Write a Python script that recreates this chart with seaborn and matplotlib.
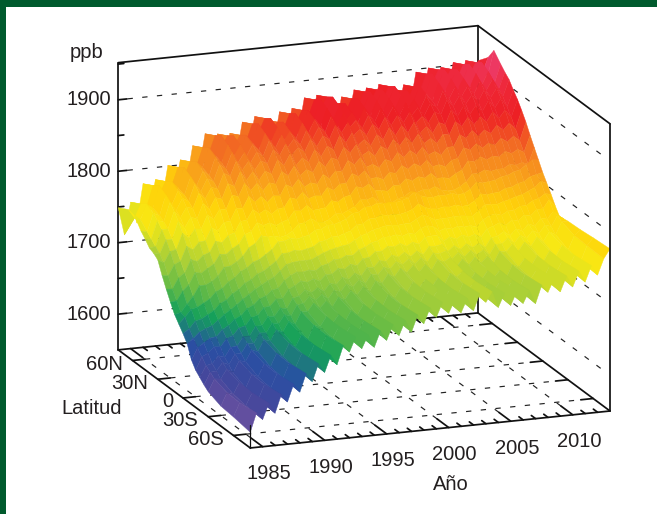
"""Metano atmosferico por latitud y ano, superficie 3D."""

import numpy as np
import seaborn as sns
import matplotlib.pyplot as plt
from matplotlib.colors import Normalize
from matplotlib.patches import Rectangle
from mpl_toolkits.mplot3d import proj3d

WIDTH, HEIGHT = 657, 514

# latitudes of the grid rows, north to south
latitudes = [77, 65, 58, 50, 45, 40, 35, 30, 25, 20, 15, 10, 5, 0, -5, -10, -15, -20, -25, -30, -45, -60, -80]

# ppb at the start of each year (1984..2013), per latitude
n77_a = [1749, 1755, 1779, 1783, 1801, 1807, 1825, 1840, 1838, 1837, 1851, 1857, 1850, 1860, 1863, 1876, 1878, 1867, 1872, 1880, 1881, 1884, 1876, 1880, 1896, 1900, 1899, 1904, 1905, 1903]
n65_a = [1757, 1763, 1787, 1791, 1809, 1815, 1833, 1848, 1846, 1845, 1859, 1865, 1858, 1868, 1871, 1884, 1886, 1875, 1880, 1888, 1889, 1892, 1884, 1888, 1904, 1908, 1907, 1912, 1913, 1918]
n58_a = [1755, 1769, 1793, 1797, 1815, 1821, 1839, 1854, 1852, 1851, 1865, 1871, 1864, 1874, 1877, 1890, 1892, 1881, 1886, 1894, 1895, 1898, 1890, 1894, 1910, 1914, 1913, 1918, 1919, 1934]
n50_a = [1740, 1763, 1787, 1791, 1809, 1815, 1833, 1848, 1846, 1845, 1859, 1865, 1858, 1868, 1871, 1884, 1886, 1875, 1880, 1888, 1889, 1892, 1884, 1888, 1904, 1908, 1907, 1912, 1913, 1922]
n45_a = [1733, 1757, 1781, 1785, 1803, 1809, 1827, 1842, 1840, 1839, 1853, 1859, 1852, 1862, 1865, 1878, 1880, 1869, 1874, 1882, 1883, 1886, 1878, 1882, 1898, 1902, 1901, 1906, 1907, 1915]
n40_a = [1725, 1749, 1773, 1777, 1795, 1801, 1819, 1834, 1832, 1831, 1845, 1851, 1844, 1854, 1857, 1870, 1872, 1861, 1866, 1874, 1875, 1878, 1870, 1874, 1890, 1894, 1893, 1898, 1899, 1909]
n35_a = [1722, 1739, 1763, 1767, 1785, 1791, 1809, 1824, 1822, 1821, 1835, 1841, 1834, 1844, 1847, 1860, 1862, 1851, 1856, 1864, 1865, 1868, 1860, 1864, 1880, 1884, 1883, 1888, 1889, 1899]
n30_a = [1717, 1727, 1751, 1755, 1773, 1779, 1797, 1812, 1810, 1809, 1823, 1829, 1822, 1832, 1835, 1848, 1850, 1839, 1844, 1852, 1853, 1856, 1848, 1852, 1868, 1872, 1871, 1876, 1877, 1890]
n25_a = [1700, 1713, 1737, 1741, 1759, 1765, 1783, 1798, 1796, 1795, 1809, 1815, 1808, 1818, 1821, 1834, 1836, 1825, 1830, 1838, 1839, 1842, 1834, 1838, 1854, 1858, 1857, 1862, 1863, 1879]
n20_a = [1685, 1699, 1723, 1727, 1745, 1751, 1769, 1784, 1782, 1781, 1795, 1801, 1794, 1804, 1807, 1820, 1822, 1811, 1816, 1824, 1825, 1828, 1820, 1824, 1840, 1844, 1843, 1848, 1849, 1867]
n15_a = [1671, 1685, 1709, 1713, 1731, 1737, 1755, 1770, 1768, 1767, 1781, 1787, 1780, 1790, 1793, 1806, 1808, 1797, 1802, 1810, 1811, 1814, 1806, 1810, 1826, 1830, 1829, 1834, 1835, 1853]
n10_a = [1658, 1671, 1695, 1699, 1717, 1723, 1741, 1756, 1754, 1753, 1767, 1773, 1766, 1776, 1779, 1792, 1794, 1783, 1788, 1796, 1797, 1800, 1792, 1796, 1812, 1816, 1815, 1820, 1821, 1840]
n05_a = [1649, 1668, 1675, 1689, 1701, 1714, 1725, 1734, 1750, 1753, 1753, 1761, 1766, 1769, 1779, 1786, 1790, 1789, 1790, 1800, 1791, 1792, 1793, 1791, 1805, 1804, 1809, 1814, 1822, 1827]
eq0_a = [1640, 1656, 1663, 1677, 1689, 1702, 1713, 1722, 1738, 1741, 1741, 1749, 1754, 1757, 1767, 1774, 1778, 1777, 1778, 1788, 1779, 1780, 1781, 1779, 1793, 1792, 1797, 1802, 1810, 1814]
s05_a = [1630, 1645, 1652, 1666, 1678, 1691, 1702, 1711, 1727, 1730, 1730, 1738, 1743, 1746, 1756, 1763, 1767, 1766, 1767, 1777, 1768, 1769, 1770, 1768, 1782, 1781, 1786, 1791, 1799, 1803]
s10_a = [1612, 1634, 1641, 1655, 1667, 1680, 1691, 1700, 1716, 1719, 1719, 1727, 1732, 1735, 1745, 1752, 1756, 1755, 1756, 1766, 1757, 1758, 1759, 1757, 1771, 1770, 1775, 1780, 1788, 1792]
s15_a = [1602, 1624, 1631, 1645, 1657, 1670, 1681, 1690, 1706, 1709, 1709, 1717, 1722, 1725, 1735, 1742, 1746, 1745, 1746, 1756, 1747, 1748, 1749, 1747, 1761, 1760, 1765, 1770, 1778, 1780]
s20_a = [1596, 1614, 1621, 1635, 1647, 1660, 1671, 1680, 1696, 1699, 1699, 1707, 1712, 1715, 1725, 1732, 1736, 1735, 1736, 1746, 1737, 1738, 1739, 1737, 1751, 1750, 1755, 1760, 1768, 1770]
s25_a = [1590, 1608, 1615, 1629, 1641, 1654, 1665, 1674, 1690, 1693, 1693, 1701, 1706, 1709, 1719, 1726, 1730, 1729, 1730, 1740, 1731, 1732, 1733, 1731, 1745, 1744, 1749, 1754, 1762, 1771]
s30_a = [1585, 1601, 1608, 1622, 1634, 1647, 1658, 1667, 1683, 1686, 1686, 1694, 1699, 1702, 1712, 1719, 1723, 1722, 1723, 1733, 1724, 1725, 1726, 1724, 1738, 1737, 1742, 1747, 1755, 1772]
s45_a = [1578, 1593, 1600, 1614, 1626, 1639, 1650, 1659, 1675, 1678, 1678, 1686, 1691, 1694, 1704, 1711, 1715, 1714, 1715, 1725, 1716, 1717, 1718, 1716, 1730, 1729, 1734, 1739, 1747, 1773]
s60_a = [1576, 1590, 1597, 1611, 1623, 1636, 1647, 1656, 1672, 1675, 1675, 1683, 1688, 1691, 1701, 1708, 1712, 1711, 1712, 1722, 1713, 1714, 1715, 1713, 1727, 1726, 1731, 1736, 1744, 1775]
s80_a = [1572, 1588, 1595, 1609, 1621, 1634, 1645, 1654, 1670, 1673, 1673, 1681, 1686, 1689, 1699, 1706, 1710, 1709, 1710, 1720, 1711, 1712, 1713, 1711, 1725, 1724, 1729, 1734, 1742, 1777]

# ppb at mid year (1984.5..2012.5), per latitude
n77_b = [1710, 1725, 1739, 1750, 1762, 1774, 1790, 1797, 1795, 1802, 1812, 1811, 1813, 1819, 1827, 1835, 1830, 1827, 1834, 1838, 1840, 1838, 1836, 1846, 1856, 1857, 1859, 1862, 1862]
n65_b = [1744, 1759, 1773, 1784, 1796, 1808, 1824, 1831, 1829, 1836, 1846, 1845, 1847, 1853, 1861, 1869, 1864, 1861, 1868, 1872, 1874, 1872, 1870, 1880, 1890, 1891, 1893, 1896, 1896]
n58_b = [1748, 1763, 1777, 1788, 1800, 1812, 1828, 1835, 1833, 1840, 1850, 1849, 1851, 1857, 1865, 1873, 1868, 1865, 1872, 1876, 1878, 1876, 1874, 1884, 1894, 1895, 1897, 1900, 1900]
n50_b = [1738, 1759, 1773, 1784, 1796, 1808, 1824, 1831, 1829, 1836, 1846, 1845, 1847, 1853, 1861, 1869, 1864, 1861, 1868, 1872, 1874, 1872, 1870, 1880, 1890, 1891, 1893, 1896, 1896]
n45_b = [1732, 1755, 1769, 1780, 1792, 1804, 1820, 1827, 1825, 1832, 1842, 1841, 1843, 1849, 1857, 1865, 1860, 1857, 1864, 1868, 1870, 1868, 1866, 1876, 1886, 1887, 1889, 1892, 1892]
n40_b = [1726, 1749, 1763, 1774, 1786, 1798, 1814, 1821, 1819, 1826, 1836, 1835, 1837, 1843, 1851, 1859, 1854, 1851, 1858, 1862, 1864, 1862, 1860, 1870, 1880, 1881, 1883, 1886, 1886]
n35_b = [1720, 1739, 1753, 1764, 1776, 1788, 1804, 1811, 1809, 1816, 1826, 1825, 1827, 1833, 1841, 1849, 1844, 1841, 1848, 1852, 1854, 1852, 1850, 1860, 1870, 1871, 1873, 1876, 1876]
n30_b = [1712, 1729, 1743, 1754, 1766, 1778, 1794, 1801, 1799, 1806, 1816, 1815, 1817, 1823, 1831, 1839, 1834, 1831, 1838, 1842, 1844, 1842, 1840, 1850, 1860, 1861, 1863, 1866, 1866]
n25_b = [1698, 1717, 1731, 1742, 1754, 1766, 1782, 1789, 1787, 1794, 1804, 1803, 1805, 1811, 1819, 1827, 1822, 1819, 1826, 1830, 1832, 1830, 1828, 1838, 1848, 1849, 1851, 1854, 1854]
n20_b = [1684, 1705, 1719, 1730, 1742, 1754, 1770, 1777, 1775, 1782, 1792, 1791, 1793, 1799, 1807, 1815, 1810, 1807, 1814, 1818, 1820, 1818, 1816, 1826, 1836, 1837, 1839, 1842, 1842]
n15_b = [1672, 1693, 1707, 1718, 1730, 1742, 1758, 1765, 1763, 1770, 1780, 1779, 1781, 1787, 1795, 1803, 1798, 1795, 1802, 1806, 1808, 1806, 1804, 1814, 1824, 1825, 1827, 1830, 1830]
n10_b = [1660, 1681, 1695, 1706, 1718, 1730, 1746, 1753, 1751, 1758, 1768, 1767, 1769, 1775, 1783, 1791, 1786, 1783, 1790, 1794, 1796, 1794, 1792, 1802, 1812, 1813, 1815, 1818, 1818]
n05_b = [1658, 1670, 1680, 1693, 1706, 1718, 1728, 1740, 1750, 1751, 1755, 1762, 1766, 1772, 1780, 1786, 1788, 1788, 1793, 1794, 1790, 1791, 1790, 1796, 1803, 1805, 1810, 1816, 1828]
eq0_b = [1646, 1658, 1668, 1681, 1694, 1706, 1716, 1728, 1738, 1739, 1743, 1750, 1754, 1760, 1768, 1774, 1776, 1776, 1781, 1782, 1778, 1779, 1778, 1784, 1791, 1793, 1798, 1804, 1812]
s05_b = [1637, 1649, 1659, 1672, 1685, 1697, 1707, 1719, 1729, 1730, 1734, 1741, 1745, 1751, 1759, 1765, 1767, 1767, 1772, 1773, 1769, 1770, 1769, 1775, 1782, 1784, 1789, 1795, 1807]
s10_b = [1628, 1640, 1650, 1663, 1676, 1688, 1698, 1710, 1720, 1721, 1725, 1732, 1736, 1742, 1750, 1756, 1758, 1758, 1763, 1764, 1760, 1761, 1760, 1766, 1773, 1775, 1780, 1786, 1794]
s15_b = [1620, 1632, 1642, 1655, 1668, 1680, 1690, 1702, 1712, 1713, 1717, 1724, 1728, 1734, 1742, 1748, 1750, 1750, 1755, 1756, 1752, 1753, 1752, 1758, 1765, 1767, 1772, 1778, 1790]
s20_b = [1612, 1624, 1634, 1647, 1660, 1672, 1682, 1694, 1704, 1705, 1709, 1716, 1720, 1726, 1734, 1740, 1742, 1742, 1747, 1748, 1744, 1745, 1744, 1750, 1757, 1759, 1764, 1770, 1778]
s25_b = [1607, 1619, 1629, 1642, 1655, 1667, 1677, 1689, 1699, 1700, 1704, 1711, 1715, 1721, 1729, 1735, 1737, 1737, 1742, 1743, 1739, 1740, 1739, 1745, 1752, 1754, 1759, 1765, 1777]
s30_b = [1602, 1614, 1624, 1637, 1650, 1662, 1672, 1684, 1694, 1695, 1699, 1706, 1710, 1716, 1724, 1730, 1732, 1732, 1737, 1738, 1734, 1735, 1734, 1740, 1747, 1749, 1754, 1760, 1772]
s45_b = [1596, 1608, 1618, 1631, 1644, 1656, 1666, 1678, 1688, 1689, 1693, 1700, 1704, 1710, 1718, 1724, 1726, 1726, 1731, 1732, 1728, 1729, 1728, 1734, 1741, 1743, 1748, 1754, 1766]
s60_b = [1595, 1607, 1617, 1630, 1643, 1655, 1665, 1677, 1687, 1688, 1692, 1699, 1703, 1709, 1717, 1723, 1725, 1725, 1730, 1731, 1727, 1728, 1727, 1733, 1740, 1742, 1747, 1753, 1765]
s80_b = [1598, 1610, 1620, 1633, 1646, 1658, 1668, 1680, 1690, 1691, 1695, 1702, 1706, 1712, 1720, 1726, 1728, 1728, 1733, 1734, 1730, 1731, 1730, 1736, 1743, 1745, 1750, 1756, 1764]

year_ticks = [1985, 1990, 1995, 2000, 2005, 2010]
lat_ticks = [60, 30, 0, -30, -60]
lat_labels = ["60N", "30N", "0", "30S", "60S"]
ppb_ticks = [1600, 1700, 1800, 1900]

# colours every 30 ppb from 1570 to 1930
ramp_colors = ["#7c56a2", "#45479c", "#274fa3", "#14a05a", "#68bc45", "#a8cf38",
               "#f8e914", "#ffd20a", "#f9a11b", "#f26a23", "#ed1f24", "#ee2737", "#ec4f9a"]

sns.set_theme(style="white")
plt.rcParams["font.family"] = ["Liberation Sans", "DejaVu Sans"]

INK = "#231f20"
X0, X1 = 1984, 2013
Y0, Y1 = -80, 77
Z0, Z1 = 1550, 1952


def interleave(a, b):
    """Year start and mid year values in time order."""
    out = []
    for i, v in enumerate(a):
        out.append(v)
        if i < len(b):
            out.append(b[i])
    return out


rows = [
    interleave(n77_a, n77_b), interleave(n65_a, n65_b), interleave(n58_a, n58_b),
    interleave(n50_a, n50_b), interleave(n45_a, n45_b), interleave(n40_a, n40_b),
    interleave(n35_a, n35_b), interleave(n30_a, n30_b), interleave(n25_a, n25_b),
    interleave(n20_a, n20_b), interleave(n15_a, n15_b), interleave(n10_a, n10_b),
    interleave(n05_a, n05_b), interleave(eq0_a, eq0_b), interleave(s05_a, s05_b),
    interleave(s10_a, s10_b), interleave(s15_a, s15_b), interleave(s20_a, s20_b),
    interleave(s25_a, s25_b), interleave(s30_a, s30_b), interleave(s45_a, s45_b),
    interleave(s60_a, s60_b), interleave(s80_a, s80_b),
]
ppb = np.array(rows, dtype=float)
times = X0 + 0.5 * np.arange(ppb.shape[1])
T, L = np.meshgrid(times, np.array(latitudes, dtype=float))

fig = plt.figure(figsize=(WIDTH / 100, HEIGHT / 100), dpi=100, facecolor="white")
ax = fig.add_axes([0, 0, HEIGHT / WIDTH, 1], projection="3d")
ax.set_proj_type("ortho")
ax.view_init(elev=16.04, azim=-110.4)
ax.set_box_aspect((384, 379, 299))
ax.set_xlim(X0, X1)
ax.set_ylim(Y0, Y1)
ax.set_zlim(Z0, Z1)
ax.set_axis_off()
ax.patch.set_alpha(0)
ax.computed_zorder = False


def to_display(x, y, z):
    px, py, _ = proj3d.proj_transform(x, y, z, ax.get_proj())
    return ax.transData.transform((px, py))


# move the axes so the box corners land where they are in the picture
a = to_display(X1, Y0, Z0)
b = to_display(X0, Y1, Z1)
target_a = np.array([610, HEIGHT - 411])
target_b = np.array([118, HEIGHT - 63])
scale = np.linalg.norm(target_a - target_b) / np.linalg.norm(a - b)
side = HEIGHT * scale
left = target_a[0] - scale * a[0]
bottom = target_a[1] - scale * a[1]
ax.set_position([left / WIDTH, bottom / HEIGHT, side / WIDTH, side / HEIGHT])


def line(xs, ys, zs, lw=1.25, z=1, color="#111111", **kw):
    ax.plot(xs, ys, zs, color=color, lw=lw, zorder=z, clip_on=False, **kw)


def dashed(xs, ys, zs):
    line(xs, ys, zs, lw=0.85, color="#222222", ls=(0, (4.5, 8)))


def label(x, y, z, text, dx, dy, ha="center", va="center"):
    d = to_display(x, y, z)
    fig.text((d[0] + dx) / WIDTH, (d[1] + dy) / HEIGHT, text, ha=ha, va=va,
             fontsize=14.5, color=INK)


# grid on the floor and walls
for yr in year_ticks:
    dashed([yr, yr], [Y0 + 14, Y1 - 14], [Z0, Z0])
for lat in lat_ticks:
    dashed([X0 + 1, X1 - 1], [lat, lat], [Z0, Z0])
for level in ppb_ticks:
    dashed([X0 + 0.75, X1], [Y1, Y1], [level, level])
    dashed([X1, X1], [Y1, Y0 + 9], [level, level])

# box
line([X0, X1], [Y1, Y1], [Z1, Z1])
line([X1, X1], [Y1, Y0], [Z1, Z1])
line([X0, X0], [Y1, Y1], [Z0, Z1])
line([X1, X1], [Y1, Y1], [Z0, Z1])
line([X0, X1], [Y1, Y1], [Z0, Z0])
line([X0, X0], [Y1, Y0], [Z0, Z0])
line([X1, X1], [Y1, Y0], [Z0, Z0])
line([X0, X1], [Y0, Y0], [Z0, Z0])
line([X1, X1], [Y0, Y0], [Z0, Z1], z=3)
line([X0, X0], [Y0, Y0], [Z0, Z0 + 32], lw=0.9, z=3)

# ticks
for level in ppb_ticks:
    line([X0, X0 + 0.7], [Y1, Y1], [level, level])
    line([X0, X0 + 0.45], [Y1, Y1], [level + 50, level + 50])
for lat in lat_ticks:
    line([X0, X0 + 1], [lat, lat], [Z0, Z0])
    line([X1, X1 - 1], [lat, lat], [Z0, Z0])
for yr in range(X0 + 1, X1):
    size = 14 if yr in year_ticks else 5
    line([yr, yr], [Y0, Y0 + size], [Z0, Z0])
    line([yr, yr], [Y1, Y1 - size], [Z0, Z0])

# the surface
cmap = sns.blend_palette(ramp_colors, as_cmap=True)
norm = Normalize(1570, 1930)
surf = ax.plot_surface(T, L, ppb, cmap=cmap, norm=norm, rcount=200, ccount=200,
                       linewidth=0.3, antialiased=True, shade=False, zorder=2)
surf.set_edgecolor("face")

# labels
for level in ppb_ticks:
    label(X0, Y1, level, str(level), -7, 0, ha="right")
for lat, text in zip(lat_ticks, lat_labels):
    label(X0, lat, Z0, text, -10, -4, ha="right")
for yr in year_ticks:
    label(yr, Y0, Z0, str(yr), 6, -27)
fig.text(87 / WIDTH, 1 - 52 / HEIGHT, "ppb", ha="center", va="center", fontsize=14.5, color=INK)
fig.text(92 / WIDTH, 1 - 408 / HEIGHT, "Latitud", ha="center", va="center", fontsize=14.5, color=INK)
fig.text(451 / WIDTH, 1 - 485 / HEIGHT, "Año", ha="center", va="center", fontsize=14.5, color=INK)

# green page frame
green = "#005a2d"
fig.add_artist(Rectangle((0, 1 - 7 / HEIGHT), 1, 7 / HEIGHT, transform=fig.transFigure, color=green, lw=0))
fig.add_artist(Rectangle((0, 0), 6 / WIDTH, 1, transform=fig.transFigure, color=green, lw=0))

fig.savefig("out.png", dpi=100)
